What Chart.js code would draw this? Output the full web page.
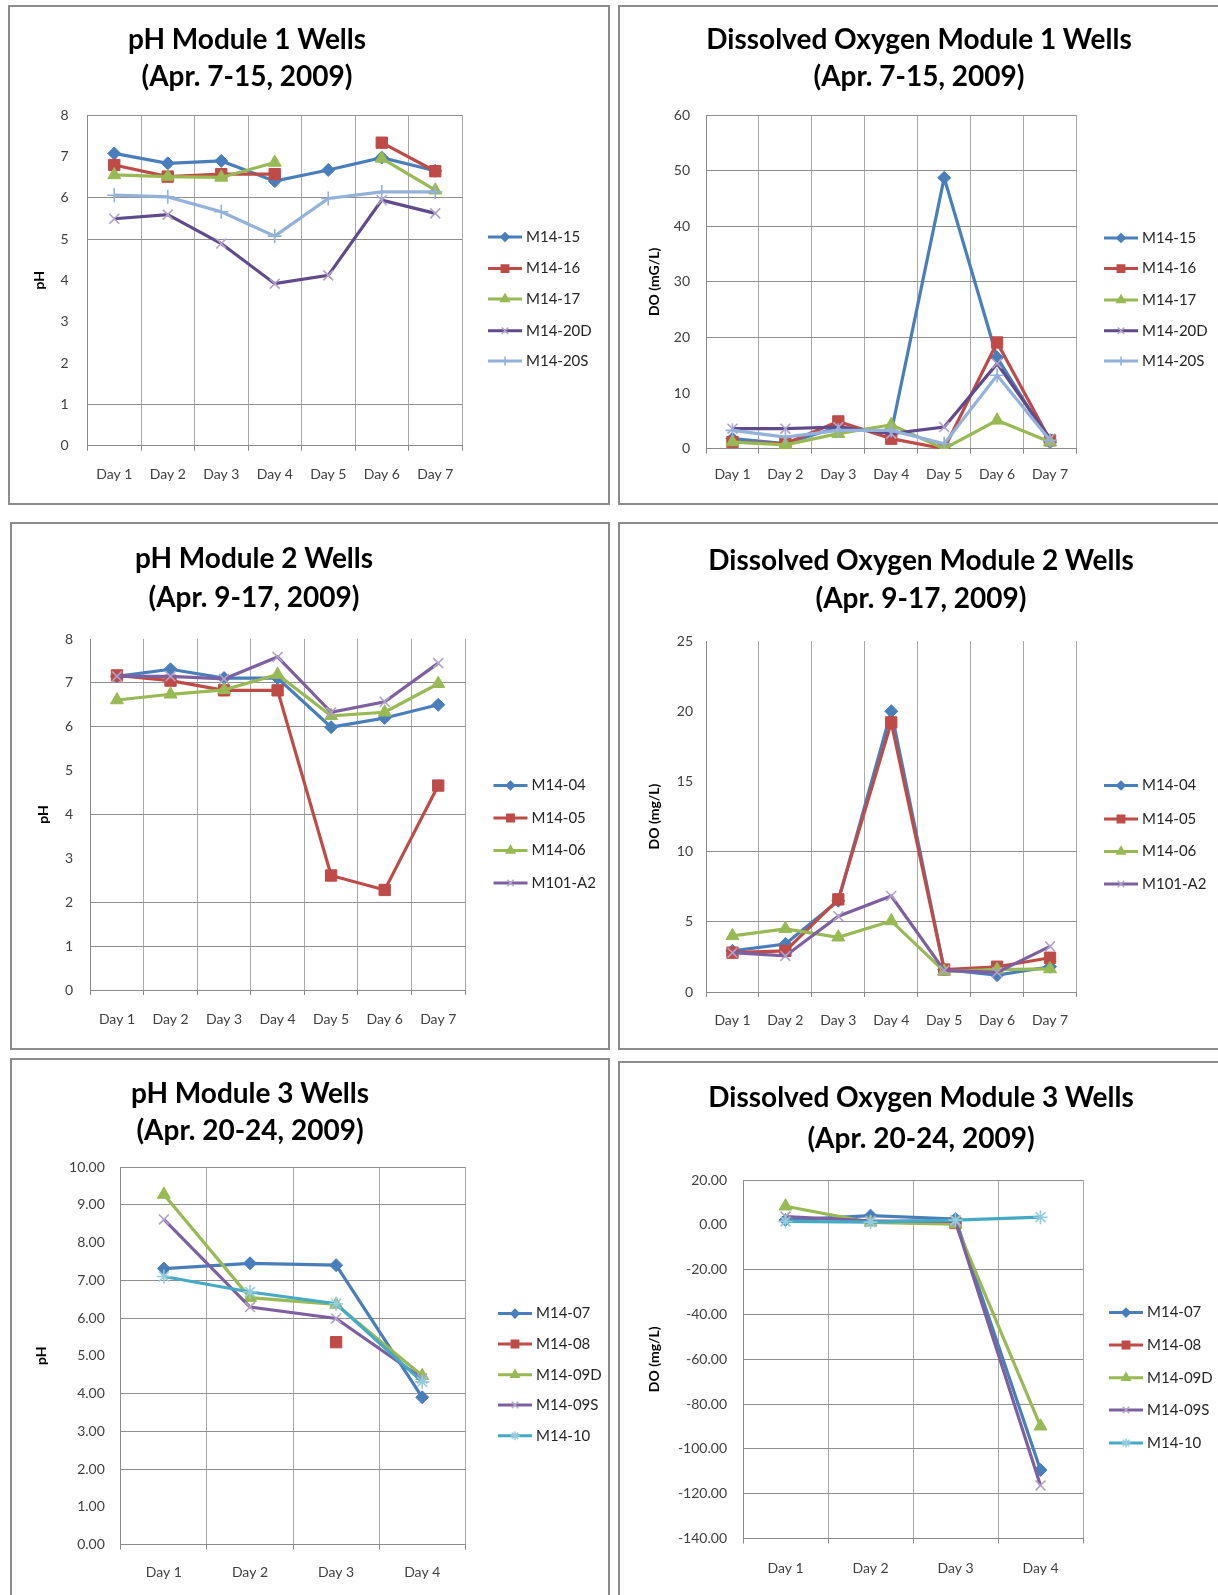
<!DOCTYPE html>
<html>
<head>
<meta charset="utf-8">
<title>Module wells pH and DO</title>
<script src="https://cdn.jsdelivr.net/npm/chart.js@4.4.0/dist/chart.umd.min.js"></script>
<style>
  body { margin: 0; background: #fff; width: 1218px; height: 1595px; overflow: hidden; position: relative; font-family: Lato, sans-serif; }
  .panel { position: absolute; border: 2px solid #8c8c8c; box-sizing: border-box; background: #fff; }
  .panel canvas { position: absolute; left: 0; top: 0; }
  .title { position: absolute; width: 500px; height: 36px; line-height: 36px; text-align: center;
           font: bold 28px Lato, sans-serif; color: #000; white-space: nowrap; }
</style>
</head>
<body>
<script>
const days7 = ['Day 1', 'Day 2', 'Day 3', 'Day 4', 'Day 5', 'Day 6', 'Day 7'];
const days4 = ['Day 1', 'Day 2', 'Day 3', 'Day 4'];

// Module 1 wells, Apr. 7-15
const module1Wells = ['M14-15', 'M14-16', 'M14-17', 'M14-20D', 'M14-20S'];
const ph1_M14_15  = [7.07, 6.83, 6.89, 6.40, 6.67, 6.97, 6.65];
const ph1_M14_16  = [6.79, 6.51, 6.57, 6.57, null, 7.33, 6.64];
const ph1_M14_17  = [6.55, 6.51, 6.49, 6.85, null, 6.95, 6.18];
const ph1_M14_20D = [5.49, 5.59, 4.89, 3.92, 4.12, 5.94, 5.62];
const ph1_M14_20S = [6.06, 6.02, 5.66, 5.07, 5.98, 6.14, 6.14];
const do1_M14_15  = [1.8, 0.9, 3.9, 3.0, 48.7, 16.4, 1.2];
const do1_M14_16  = [1.2, 0.9, 4.9, 1.8, 0.0, 19.1, 1.5];
const do1_M14_17  = [1.2, 0.7, 2.7, 4.3, 0.0, 5.1, 1.2];
const do1_M14_20D = [3.6, 3.6, 3.9, 2.7, 3.9, 15.3, 1.8];
const do1_M14_20S = [3.3, 2.1, 3.3, 3.3, 0.9, 13.2, 1.5];

// Module 2 wells, Apr. 9-17
const module2Wells = ['M14-04', 'M14-05', 'M14-06', 'M101-A2'];
const ph2_M14_04  = [7.15, 7.31, 7.11, 7.11, 5.99, 6.20, 6.50];
const ph2_M14_05  = [7.17, 7.05, 6.83, 6.83, 2.61, 2.28, 4.66];
const ph2_M14_06  = [6.61, 6.74, 6.84, 7.19, 6.25, 6.33, 6.98];
const ph2_M101_A2 = [7.15, 7.15, 7.09, 7.59, 6.33, 6.57, 7.45];
const do2_M14_04  = [2.93, 3.42, 6.5, 20.0, 1.6, 1.2, 1.8];
const do2_M14_05  = [2.8, 2.93, 6.6, 19.2, 1.6, 1.8, 2.44];
const do2_M14_06  = [4.0, 4.5, 3.9, 5.06, 1.47, 1.6, 1.64];
const do2_M101_A2 = [2.8, 2.57, 5.4, 6.84, 1.54, 1.4, 3.25];

// Module 3 wells, Apr. 20-24
const module3Wells = ['M14-07', 'M14-08', 'M14-09D', 'M14-09S', 'M14-10'];
const ph3_M14_07  = [7.31, 7.45, 7.40, 3.90];
const ph3_M14_08  = [null, null, 5.36, null];
const ph3_M14_09D = [9.27, 6.54, 6.36, 4.47];
const ph3_M14_09S = [8.61, 6.29, 5.99, 4.40];
const ph3_M14_10  = [7.10, 6.69, 6.38, 4.31];
const do3_M14_07  = [2.1, 4.1, 2.6, -109.4];
const do3_M14_08  = [null, null, 0.8, null];
const do3_M14_09D = [8.3, 1.1, 0.3, -89.9];
const do3_M14_09S = [3.7, 1.8, 1.5, -116.3];
const do3_M14_10  = [1.5, 1.2, 2.1, 3.4];

// series styling
const BLUE = '#4A7EBB', RED = '#BE4B48', GREEN = '#98B954';
const markers5 = ['rectRot', 'rect', 'triangle', 'crossRot', 'cross'];
const markers3 = ['rectRot', 'rect', 'triangle', 'crossRot', 'star'];
const palette1 = { line: [BLUE, RED, GREEN, '#5F4B8B', '#93B1D9'], edge: [BLUE, RED, GREEN, '#B3A2C7', '#93B1D9'] };
const palette2 = { line: [BLUE, RED, GREEN, '#7D60A0'], edge: [BLUE, RED, GREEN, '#B3A2C7'] };
const palette3 = { line: [BLUE, RED, GREEN, '#7D60A0', '#46AAC5'], edge: [BLUE, RED, GREEN, '#B3A2C7', '#93CDDD'] };
const markerRadius = { rectRot: 6.5, rect: 8, triangle: 7.5, crossRot: 7, cross: 7, star: 7 };

// panel layout in page pixels: box [x, y, w, h], plot [left, top, right, bottom]
const panels = [
  {
    box: [8, 5, 602, 500], plot: [87.5, 115, 462, 445.7],
    title: ['pH Module 1 Wells', '(Apr. 7-15, 2009)'], titleX: 247, titleY: [38.7, 76.3],
    yTitle: 'pH', yTitleX: 39, yMin: 0, yMax: 8, yStep: 1, decimals: 0, gridAt: [8, 6, 5, 1],
    yPad: 19, xPad: 15, legendX: 488, legendY: [237, 268.6, 299, 330.7, 361],
    labels: days7, names: module1Wells, markers: markers5, palette: palette1,
    series: [ph1_M14_15, ph1_M14_16, ph1_M14_17, ph1_M14_20D, ph1_M14_20S]
  },
  {
    box: [618, 5, 610, 500], plot: [706, 115, 1076.5, 448.7],
    title: ['Dissolved Oxygen Module 1 Wells', '(Apr. 7-15, 2009)'], titleX: 919, titleY: [38.7, 76.3],
    yTitle: 'DO (mG/L)', yTitleX: 654, yMin: 0, yMax: 60, yStep: 10, decimals: 0, gridAt: [60, 50, 40, 30, 20],
    yPad: 16, xPad: 12, legendX: 1104, legendY: [238, 268.6, 300, 330.7, 361],
    labels: days7, names: module1Wells, markers: markers5, palette: palette1,
    series: [do1_M14_15, do1_M14_16, do1_M14_17, do1_M14_20D, do1_M14_20S]
  },
  {
    box: [10, 522, 600, 528], plot: [90.2, 639, 465, 990],
    title: ['pH Module 2 Wells', '(Apr. 9-17, 2009)'], titleX: 254, titleY: [557.6, 597],
    yTitle: 'pH', yTitleX: 43, yMin: 0, yMax: 8, yStep: 1, decimals: 0, gridAt: [7, 6, 4, 2, 1],
    yPad: 17, xPad: 16, legendX: 493.5, legendY: [785.5, 818, 850.6, 883],
    labels: days7, names: module2Wells, markers: markers5, palette: palette2,
    series: [ph2_M14_04, ph2_M14_05, ph2_M14_06, ph2_M101_A2]
  },
  {
    box: [618, 522, 610, 528], plot: [706, 641, 1076.5, 992],
    title: ['Dissolved Oxygen Module 2 Wells', '(Apr. 9-17, 2009)'], titleX: 921, titleY: [559.6, 598.3],
    yTitle: 'DO (mg/L)', yTitleX: 654, yMin: 0, yMax: 25, yStep: 5, decimals: 0, gridAt: [10, 5],
    yPad: 13, xPad: 15, legendX: 1104, legendY: [785.5, 819, 851.6, 884],
    labels: days7, names: module2Wells, markers: markers5, palette: palette2,
    series: [do2_M14_04, do2_M14_05, do2_M14_06, do2_M101_A2]
  },
  {
    box: [10, 1058, 600, 547], plot: [120.8, 1167, 465.3, 1544.6],
    title: ['pH Module 3 Wells', '(Apr. 20-24, 2009)'], titleX: 250, titleY: [1092.8, 1129.5],
    yTitle: 'pH', yTitleX: 41, yMin: 0, yMax: 10, yStep: 1, decimals: 2, gridAt: [10, 9, 7, 6, 4, 3, 2],
    yPad: 16, xPad: 14, legendX: 498, legendY: [1313.6, 1344, 1374.7, 1405, 1435.7],
    labels: days4, names: module3Wells, markers: markers3, palette: palette3,
    series: [ph3_M14_07, ph3_M14_08, ph3_M14_09D, ph3_M14_09S, ph3_M14_10]
  },
  {
    box: [618, 1061, 610, 544], plot: [743, 1180, 1083, 1538.5],
    title: ['Dissolved Oxygen Module 3 Wells', '(Apr. 20-24, 2009)'], titleX: 921, titleY: [1097, 1137.6],
    yTitle: 'DO (mg/L)', yTitleX: 654, yMin: -140, yMax: 20, yStep: 20, decimals: 2,
    gridAt: [20, -20, -40, -60, -80, -100, -120],
    yPad: 16, xPad: 17, legendX: 1109, legendY: [1312.6, 1345, 1377.7, 1410, 1443],
    labels: days4, names: module3Wells, markers: markers3, palette: palette3,
    series: [do3_M14_07, do3_M14_08, do3_M14_09D, do3_M14_09S, do3_M14_10]
  }
];

// Excel-style legend: short line with the marker in its middle, name to the right
const wellLegend = {
  id: 'wellLegend',
  afterDraw(chart, args, opts) {
    const ctx = chart.ctx;
    chart.data.datasets.forEach((ds, i) => {
      const x = opts.x, y = opts.ys[i];
      ctx.save();
      ctx.strokeStyle = ds.borderColor;
      ctx.lineWidth = 3;
      ctx.beginPath();
      ctx.moveTo(x, y);
      ctx.lineTo(x + 34, y);
      ctx.stroke();
      ctx.fillStyle = ds.pointBackgroundColor;
      ctx.strokeStyle = ds.pointBorderColor;
      ctx.lineWidth = 1.5;
      Chart.helpers.drawPoint(ctx, { pointStyle: ds.pointStyle, radius: ds.pointRadius * 0.65, borderWidth: 1.5, rotation: 0 }, x + 17, y);
      ctx.fillStyle = '#262626';
      ctx.font = '15px Lato';
      ctx.textBaseline = 'middle';
      ctx.textAlign = 'left';
      ctx.fillText(ds.label, x + 38, y);
      ctx.restore();
    });
  }
};

function buildPanel(p) {
  const [bx, by, bw, bh] = p.box;
  const ox = bx + 2, oy = by + 2;
  const W = bw - 4, H = bh - 4;

  const div = document.createElement('div');
  div.className = 'panel';
  div.style.left = bx + 'px';
  div.style.top = by + 'px';
  div.style.width = bw + 'px';
  div.style.height = bh + 'px';
  document.body.appendChild(div);

  const canvas = document.createElement('canvas');
  canvas.width = W;
  canvas.height = H;
  div.appendChild(canvas);

  p.title.forEach((line, i) => {
    const t = document.createElement('div');
    t.className = 'title';
    t.textContent = line;
    t.style.left = (p.titleX - ox - 250) + 'px';
    t.style.top = (p.titleY[i] - oy - 18) + 'px';
    div.appendChild(t);
  });

  const left = p.plot[0] - ox, top = p.plot[1] - oy;
  const right = p.plot[2] - ox, bottom = p.plot[3] - oy;
  const padLeft = p.yTitleX - ox - 12.4;
  const axisW = left - padLeft;
  const axisH = 48;

  const datasets = p.series.map((values, i) => ({
    label: p.names[i],
    data: values,
    borderColor: p.palette.line[i],
    backgroundColor: p.palette.line[i],
    pointBackgroundColor: p.palette.line[i],
    pointBorderColor: p.palette.edge[i],
    pointStyle: p.markers[i],
    pointRadius: markerRadius[p.markers[i]],
    pointBorderWidth: p.markers[i].startsWith('cross') || p.markers[i] === 'star' ? 1.6 : 1,
    borderWidth: 3.2,
    tension: 0,
    order: -i
  }));

  new Chart(canvas, {
    type: 'line',
    data: { labels: p.labels, datasets },
    plugins: [wellLegend],
    options: {
      responsive: false,
      animation: false,
      events: [],
      layout: { padding: { left: padLeft, top: top, right: W - right, bottom: H - bottom - axisH } },
      plugins: {
        legend: { display: false },
        title: { display: false },
        tooltip: { enabled: false },
        wellLegend: { x: p.legendX - ox, ys: p.legendY.map(v => v - oy) }
      },
      scales: {
        x: {
          offset: true,
          afterFit: s => { s.height = axisH; },
          grid: { offset: true, color: '#a9a9a9', lineWidth: 1, tickLength: 5, tickColor: '#8a8a8a' },
          border: { color: '#8a8a8a', width: 1 },
          ticks: { color: '#404040', font: { family: 'Lato', size: 14 }, padding: p.xPad, maxRotation: 0 }
        },
        y: {
          min: p.yMin,
          max: p.yMax,
          afterFit: s => { s.width = axisW; },
          grid: {
            drawTicks: false,
            lineWidth: 1,
            color: c => (c.tick && p.gridAt.includes(c.tick.value)) ? '#8f8f8f' : 'rgba(0,0,0,0)'
          },
          border: { color: '#8a8a8a', width: 1 },
          ticks: {
            stepSize: p.yStep,
            padding: p.yPad,
            color: '#404040',
            font: { family: 'Lato', size: 14 },
            callback: v => Number(v).toFixed(p.decimals)
          },
          title: {
            display: true,
            text: p.yTitle,
            color: '#000',
            font: { family: 'Lato', size: 14, weight: 'bold' },
            padding: { top: 4, bottom: 4 }
          }
        }
      }
    }
  });
}

panels.forEach(buildPanel);
</script>
</body>
</html>
